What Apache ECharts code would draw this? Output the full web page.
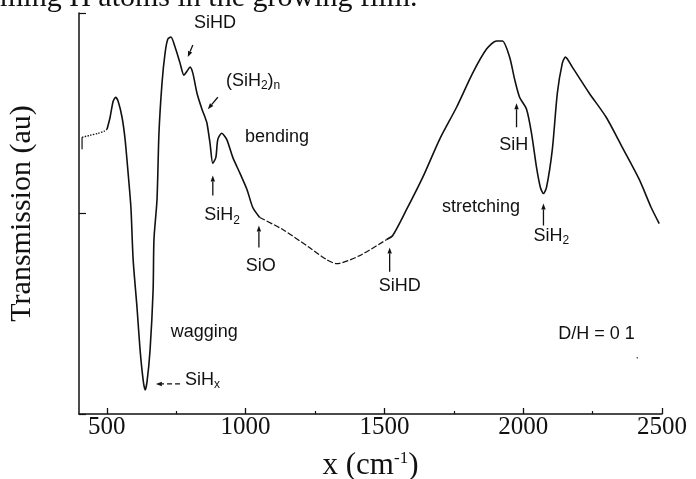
<!DOCTYPE html>
<html>
<head>
<meta charset="utf-8">
<script src="https://cdn.jsdelivr.net/npm/echarts@6/dist/echarts.min.js"></script>
<style>
  html, body { margin: 0; padding: 0; background: #fff; }
  #main { width: 696px; height: 479px; }
</style>
</head>
<body>
<div id="main"></div>
<script>
//----------- Data
const wavenumber = [411, 440, 469, 490, 501, 512, 523, 532, 541, 555, 566, 577, 587, 595, 609, 620, 631, 638, 645, 656,
    667, 670, 681, 688, 699, 710, 720, 731, 746, 764, 778, 789, 800, 810, 825, 843, 854, 861, 872, 882,
    893, 900, 914, 932, 954, 980, 1005, 1026, 1051, 1134, 1230, 1292, 1328, 1411, 1508, 1530, 1580, 1638, 1699, 1760,
    1818, 1868, 1904, 1925, 1951, 1969, 1987, 2012, 2030, 2048, 2062, 2073, 2084, 2105, 2123, 2141, 2152, 2177, 2238, 2299,
    2357, 2418, 2461, 2490];
const transmission = [1.38, 1.39, 1.40, 1.41, 1.42, 1.48, 1.56, 1.58, 1.56, 1.48, 1.37, 1.20, 1.03, 0.77, 0.53, 0.32, 0.17, 0.12, 0.16, 0.32,
    0.62, 0.87, 1.07, 1.40, 1.65, 1.80, 1.87, 1.88, 1.83, 1.75, 1.69, 1.71, 1.73, 1.70, 1.60, 1.52, 1.48, 1.45, 1.35, 1.25,
    1.28, 1.37, 1.40, 1.37, 1.28, 1.20, 1.12, 1.03, 0.98, 0.92, 0.83, 0.77, 0.75, 0.79, 0.87, 0.89, 1.02, 1.18, 1.37, 1.53,
    1.70, 1.82, 1.86, 1.86, 1.78, 1.67, 1.58, 1.52, 1.40, 1.23, 1.13, 1.10, 1.13, 1.32, 1.60, 1.75, 1.78, 1.73, 1.60, 1.48,
    1.33, 1.17, 1.03, 0.95];
const xTickValues = [500, 1000, 1500, 2000, 2500];
const xMinorTickValues = [750, 1250, 1750, 2250];

//Annotations, in data units
const notes = [
    {text: "SiHD", x: 890, y: 1.95},
    {text: "(SiH{sub|2}){sub|n}", x: 1027, y: 1.66},
    {text: "bending", x: 1113, y: 1.38},
    {text: "SiH{sub|2}", x: 915, y: 0.99},
    {text: "SiO", x: 1055, y: 0.74},
    {text: "SiHD", x: 1555, y: 0.64},
    {text: "wagging", x: 851, y: 0.41},
    {text: "SiH{sub|x}", x: 782, y: 0.17, align: "left"},
    {text: "stretching", x: 1848, y: 1.03},
    {text: "SiH", x: 1966, y: 1.34},
    {text: "SiH{sub|2}", x: 2101, y: 0.89},
    {text: "D/H = 0 1", x: 2264, y: 0.40}
];
const arrows = [
    {from: [810, 1.84], to: [792, 1.78]},
    {from: [900, 1.58], to: [864, 1.52]},
    {from: [882, 1.09], to: [882, 1.19]},
    {from: [1048, 0.83], to: [1048, 0.94]},
    {from: [1519, 0.71], to: [1519, 0.83]},
    {from: [764, 0.15], to: [677, 0.15], dash: [5, 3]},
    {from: [1976, 1.43], to: [1976, 1.55]},
    {from: [2073, 0.94], to: [2073, 1.05]}
];
//----------- Data

const myChart = echarts.init(document.getElementById("main"));
const points = wavenumber.map((x, i) => [x, transmission[i]]);
const serif = "'Liberation Serif', 'Times New Roman', serif";
const sans = "'Liberation Sans', Arial, sans-serif";

const lineSeries = (data, type, width) => ({
    type: "line",
    data: data,
    smooth: 0.25,
    symbol: "none",
    silent: true,
    lineStyle: {color: "#111", width: width, type: type}
});

const option = {
    animation: false,
    grid: {left: 79, right: 34, top: 13, bottom: 65, outerBoundsMode: "none"},
    xAxis: [
        {
            type: "value",
            min: 400,
            max: 2500,
            splitLine: {show: false},
            axisLine: {lineStyle: {color: "#111", width: 1.5}},
            axisTick: {inside: true, length: 6, customValues: xTickValues, lineStyle: {color: "#111", width: 1.3}},
            axisLabel: {
                customValues: xTickValues, color: "#111", fontFamily: serif, fontSize: 25, margin: 1,
                formatter: v => String(v)
            },
            name: "x (cm{sup|-1})",
            nameLocation: "middle",
            nameGap: 36,
            nameTextStyle: {
                color: "#111", fontFamily: serif, fontSize: 31,
                rich: {sup: {fontFamily: serif, fontSize: 17, padding: [0, 0, 14, 0], color: "#111"}}
            }
        },
        {
            type: "value",
            min: 400,
            max: 2500,
            position: "bottom",
            splitLine: {show: false},
            axisLine: {show: false},
            axisTick: {inside: true, length: 3, customValues: xMinorTickValues, lineStyle: {color: "#111", width: 1.2}},
            axisLabel: {show: false}
        }
    ],
    yAxis: {
        type: "value",
        min: 0,
        max: 2,
        interval: 1,
        splitLine: {show: false},
        axisLine: {show: true, lineStyle: {color: "#111", width: 1.5}},
        axisTick: {show: true, inside: true, length: 7, lineStyle: {color: "#111", width: 1.2}},
        axisLabel: {show: false},
        name: "Transmission (au)",
        nameLocation: "middle",
        nameRotate: 90,
        nameGap: 42,
        nameTextStyle: {color: "#111", fontFamily: serif, fontSize: 30}
    },
    series: [
        lineSeries(points.slice(0, 5), "dotted", 1.4),
        lineSeries(points.slice(4, 49), "solid", 1.6),
        lineSeries(points.slice(48, 55), [6, 2], 1.2),
        lineSeries(points.slice(54), "solid", 1.6)
    ]
};

myChart.setOption(option);

//----------- Annotations placed through the grid's own scale
function drawNotes() {
    const toPx = p => myChart.convertToPixel({gridIndex: 0}, p);
    const els = [];

    //cut-off line of the page text above the figure
    els.push({
        type: "text", x: 0, y: 13,
        style: {text: "ming H atoms in the growing film.", fontFamily: serif, fontSize: 30,
                fill: "#111", align: "left", verticalAlign: "bottom"}
    });

    notes.forEach(n => {
        const p = toPx([n.x, n.y]);
        els.push({
            type: "text", x: p[0], y: p[1],
            style: {
                text: n.text, fontFamily: sans, fontSize: 18, fill: "#111",
                align: n.align || "center", verticalAlign: "middle",
                rich: {sub: {fontFamily: sans, fontSize: 12, padding: [10, 0, 0, 0], fill: "#111"}}
            }
        });
    });

    arrows.forEach(a => {
        const p1 = toPx(a.from);
        const p2 = toPx(a.to);
        const ang = Math.atan2(p2[1] - p1[1], p2[0] - p1[0]);
        const len = 6, w = 2.2;
        const bx = p2[0] - len * Math.cos(ang), by = p2[1] - len * Math.sin(ang);
        els.push({
            type: "line",
            shape: {x1: p1[0], y1: p1[1], x2: bx, y2: by},
            style: {stroke: "#111", lineWidth: 1.3, lineDash: a.dash || null}
        });
        els.push({
            type: "polygon",
            shape: {points: [
                [p2[0], p2[1]],
                [bx + w * Math.sin(ang), by - w * Math.cos(ang)],
                [bx - w * Math.sin(ang), by + w * Math.cos(ang)]
            ]},
            style: {fill: "#111"}
        });
    });

    //small marks of the original scan
    const s1 = toPx([411, 1.38]), s2 = toPx([411, 1.32]);
    els.push({type: "line", shape: {x1: s1[0], y1: s1[1], x2: s2[0], y2: s2[1]}, style: {stroke: "#111", lineWidth: 1.2}});
    const d = toPx([2411, 0.28]);
    els.push({type: "circle", shape: {cx: d[0], cy: d[1], r: 0.8}, style: {fill: "#444"}});

    myChart.setOption({graphic: els});
}
drawNotes();
</script>
</body>
</html>
